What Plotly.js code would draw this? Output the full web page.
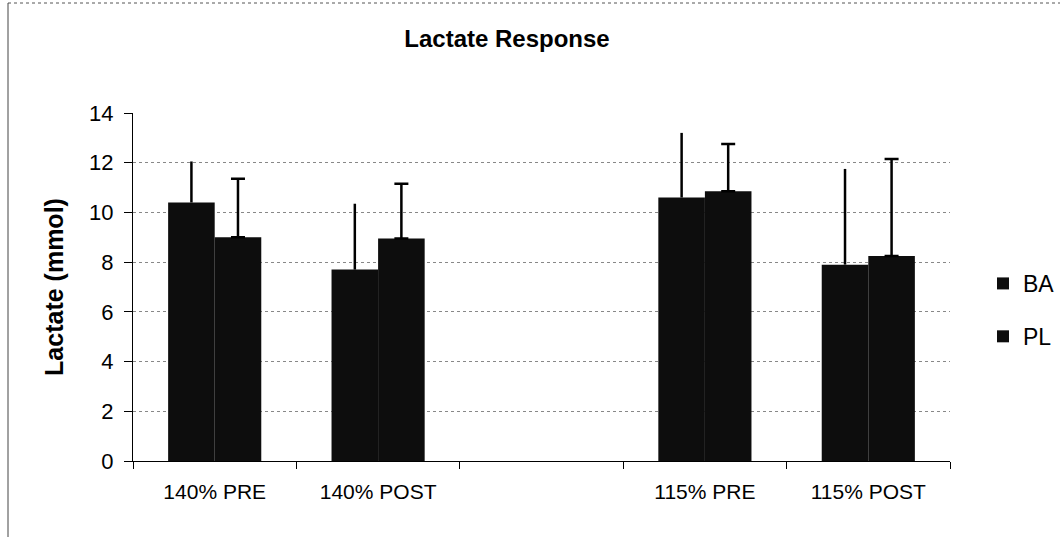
<!DOCTYPE html>
<html>
<head>
<meta charset="utf-8">
<script src="https://cdn.plot.ly/plotly-3.0.1.min.js"></script>
<style>html,body{margin:0;padding:0;background:#fff;}#chart{width:1060px;height:537px;}</style>
</head>
<body>
<div id="chart"></div>
<script>
const categories = ['140% PRE', '140% POST', ' ', '115% PRE', '115% POST'];
const barCategories = ['140% PRE', '140% POST', '115% PRE', '115% POST'];
const baValues = [10.4, 7.7, 10.6, 7.9];
const baErrors = [1.65, 2.65, 2.6, 3.85];
const plValues = [9.0, 8.95, 10.85, 8.25];
const plErrors = [2.35, 2.2, 1.9, 3.9];
const yTicks = [0, 2, 4, 6, 8, 10, 12, 14];

const font = 'Liberation Sans, Arial, sans-serif';

const traces = [
  {
    type: 'bar', name: 'BA', x: barCategories, y: baValues,
    marker: {color: '#0d0d0d', line: {width: 0}},
    error_y: {type: 'data', array: baErrors, symmetric: false, arrayminus: [0,0,0,0], visible: true, color: '#000', thickness: 2.5, width: 0},
    legendgroup: 'a'
  },
  {
    type: 'bar', name: 'PL', x: barCategories, y: plValues,
    marker: {color: '#0d0d0d', line: {width: 0}},
    error_y: {type: 'data', array: plErrors, symmetric: false, arrayminus: [0,0,0,0], visible: true, color: '#000', thickness: 2.5, width: 7},
    legendgroup: 'b'
  }
];

const layout = {
  width: 1060, height: 537,
  margin: {l: 133, r: 110, t: 113, b: 76, autoexpand: false},
  paper_bgcolor: '#fff', plot_bgcolor: '#fff',
  font: {family: font, color: '#000', size: 21},
  title: {text: '<b>Lactate Response</b>', font: {family: font, size: 24, color: '#000'}, x: 507/1060, xanchor: 'center', y: 1 - 39/537, yanchor: 'middle'},
  barmode: 'group', bargap: 0.43, bargroupgap: 0,
  showlegend: true,
  legend: {x: 1.0404, xanchor: 'left', y: 0.434, yanchor: 'middle', traceorder: 'grouped', tracegroupgap: 20, font: {family: font, size: 23, color: '#000'}, itemwidth: 30, bgcolor: 'rgba(0,0,0,0)'},
  xaxis: {
    type: 'category', categoryorder: 'array', categoryarray: categories, tickvals: categories,
    range: [-0.5, 4.5], tickson: 'boundaries', ticks: 'outside', ticklen: 7, tickcolor: '#000', tickwidth: 1,
    showline: true, linecolor: '#000', linewidth: 1, showgrid: false, zeroline: false,
    tickfont: {family: font, size: 21, color: '#000'}, ticklabelstandoff: 12, fixedrange: true
  },
  yaxis: {
    range: [0, 14], tickvals: yTicks, ticks: 'outside', ticklen: 8, tickcolor: '#000',
    showline: true, linecolor: '#000', linewidth: 1, zeroline: false,
    showgrid: true, gridcolor: '#888', griddash: 'dot', gridwidth: 1,
    tickfont: {family: font, size: 22, color: '#000'}, ticklabelstandoff: 6,
    title: {text: '<b>Lactate (mmol)</b>', font: {family: font, size: 25, color: '#000'}, standoff: 18},
    automargin: false, fixedrange: true
  },
  shapes: [
    {type: 'line', xref: 'paper', yref: 'paper', x0: (8-133)/817, x1: (1060-133)/817, y0: (537-76-3)/348, y1: (537-76-3)/348, line: {color: '#555', width: 1, dash: 'dot'}},
    {type: 'line', xref: 'paper', yref: 'paper', x0: (8-133)/817, x1: (8-133)/817, y0: (537-76-3)/348, y1: -76/348, line: {color: '#444', width: 1}}
  ]
};

Plotly.newPlot('chart', traces, layout, {displayModeBar: false, staticPlot: true});
</script>
</body>
</html>
